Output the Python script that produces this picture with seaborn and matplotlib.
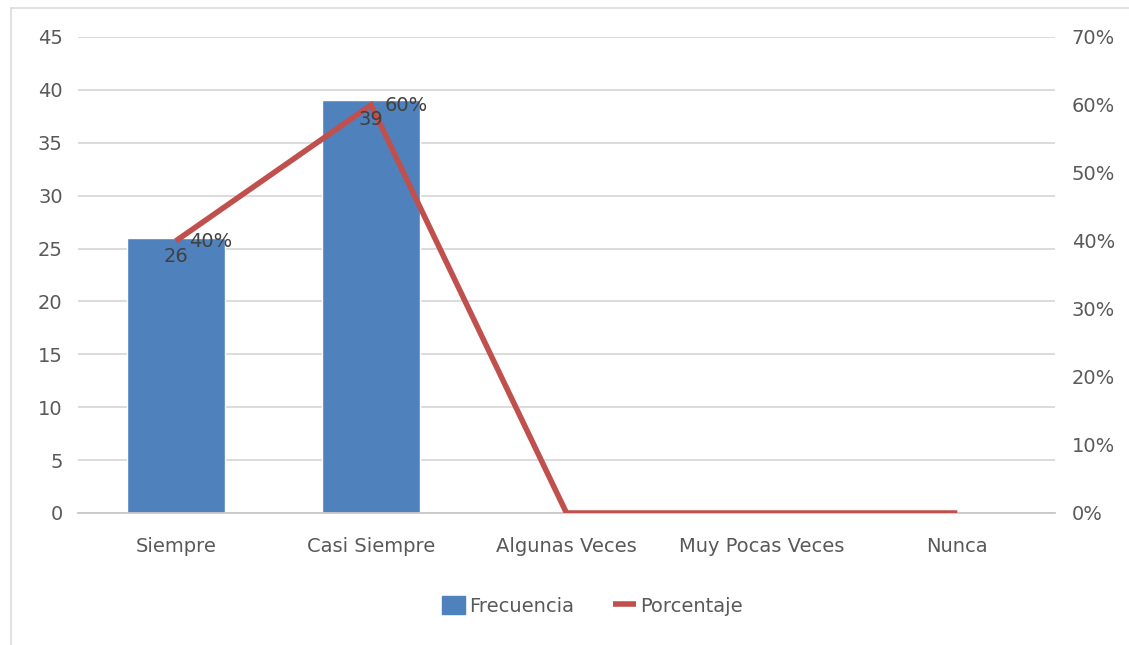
import numpy as np
import pandas as pd
import matplotlib
matplotlib.use("Agg")
import matplotlib.pyplot as plt
from matplotlib.patches import Patch
from matplotlib.lines import Line2D
import seaborn as sns

categorias = ["Siempre", "Casi Siempre", "Algunas Veces", "Muy Pocas Veces", "Nunca"]
frecuencia = [26, 39, 0, 0, 0]
porcentaje = [40, 60, 0, 0, 0]

sns.set_theme(style="white")
plt.rcParams["font.family"] = ["DejaVu Sans"]

BAR = "#4F81BD"
LINE = "#C0504D"
TXT = "#595959"
GRID = "#D9D9D9"
FS = 14

W, H = 1129, 645
fig = plt.figure(figsize=(W / 100, H / 100), dpi=100)

# chart-area frame (left and top edges)
fig.add_artist(Line2D([11 / W, 11 / W], [0, 1 - 8 / H], transform=fig.transFigure,
                      color="#DCDCDC", linewidth=1.2))
fig.add_artist(Line2D([11 / W, 1], [1 - 8 / H, 1 - 8 / H], transform=fig.transFigure,
                      color="#DCDCDC", linewidth=1.2))

ax = fig.add_axes([78 / W, 1 - 513 / H, 977 / W, 476 / H])

df = pd.DataFrame({"cat": categorias, "freq": frecuencia, "pct": porcentaje})
sns.barplot(data=df, x="cat", y="freq", color=BAR, width=0.5, saturation=1, ax=ax, zorder=2)
ax.set_ylim(0, 45)
ax.set_yticks(np.arange(0, 46, 5))
ax.set_xlim(-0.5, len(categorias) - 0.5)
ax.set_xlabel("")
ax.set_ylabel("")
ax.yaxis.grid(True, color=GRID, linewidth=1.3, zorder=0)
ax.set_axisbelow(True)
for s in ["top", "left", "right"]:
    ax.spines[s].set_visible(False)
ax.spines["bottom"].set_color("#C8C8C8")
ax.spines["bottom"].set_linewidth(1.3)
ax.tick_params(axis="both", length=0, labelsize=FS, labelcolor=TXT)
ax.tick_params(axis="x", pad=17)
ax.tick_params(axis="y", pad=11)

ax2 = ax.twinx()
df["pos"] = np.arange(len(categorias))
sns.lineplot(data=df, x="pos", y="pct", color=LINE, linewidth=4, ax=ax2, zorder=3,
             solid_capstyle="butt", solid_joinstyle="miter")
ax2.set_ylim(0, 70)
ax2.set_yticks(np.arange(0, 71, 10))
ax2.set_yticklabels([f"{t}%" for t in range(0, 71, 10)])
ax2.set_xlim(-0.5, len(categorias) - 0.5)
ax2.set_xlabel("")
ax2.set_ylabel("")
for s in ["top", "left", "right", "bottom"]:
    ax2.spines[s].set_visible(False)
ax2.tick_params(axis="y", length=0, labelsize=FS, labelcolor=TXT, pad=12)
ax2.grid(False)

# value labels, drawn above the line
for i, v in enumerate(frecuencia):
    if v > 0:
        ax2.text(i, v - 0.9, f"{v}", ha="center", va="top", fontsize=FS,
                 color="#404040", zorder=6, transform=ax.transData)
for i, v in enumerate(porcentaje):
    if v > 0:
        ax2.text(i + 0.07, v - 0.1, f"{v}%", ha="left", va="center", fontsize=FS,
                 color="#404040", zorder=6)

handles = [Patch(facecolor=BAR, edgecolor=BAR),
           Line2D([0], [0], color=LINE, linewidth=4, solid_capstyle="butt")]
fig.legend(handles, ["Frecuencia", "Porcentaje"], loc="center",
           bbox_to_anchor=(592 / W, 1 - 606 / H), ncol=2, frameon=False,
           fontsize=FS, labelcolor=TXT, handlelength=1.2, handleheight=1.0,
           handletextpad=0.2, columnspacing=2.0)

fig.savefig("out.png", dpi=100)
